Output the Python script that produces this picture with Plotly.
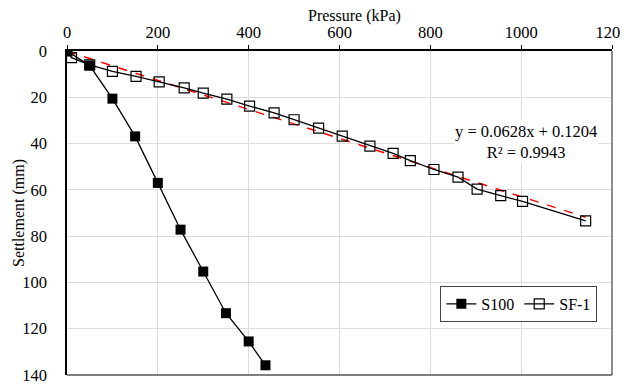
import plotly.graph_objects as go

# S100 data
s100_pressure = [0, 50, 100, 150, 200, 250, 300, 350, 400, 437]
s100_settlement = [0, 6.3, 20.6, 36.9, 57.0, 77.2, 95.3, 113.3, 125.5, 135.8]

# SF-1 data
sf1_pressure = [0, 10, 50, 100, 152, 203, 258, 300, 352, 402, 456, 500, 554, 606, 667, 718, 756, 808, 861, 903, 955, 1003, 1142]
sf1_settlement = [0, 2.9, 6.0, 8.8, 11.0, 13.3, 15.9, 18.2, 20.8, 23.8, 26.7, 29.7, 33.3, 36.8, 41.1, 44.2, 47.4, 51.2, 54.5, 59.7, 62.5, 65.0, 73.4]

# Linear trendline for SF-1
trend_slope = 0.0628
trend_intercept = 0.1204
trend_x = [0, 1142]
trend_label = "y = 0.0628x + 0.1204<br>R² = 0.9943"

x_ticks = [0, 200, 400, 600, 800, 1000, 1200]
y_ticks = [0, 20, 40, 60, 80, 100, 120, 140]

FONT = "'Liberation Serif', 'Times New Roman', serif"
FS = 16.5

fig = go.Figure()

fig.add_trace(go.Scatter(
    x=trend_x, y=[trend_slope * v + trend_intercept for v in trend_x],
    mode="lines", line=dict(color="red", width=1.5, dash="dash"),
    showlegend=False, hoverinfo="skip"))

fig.add_trace(go.Scatter(
    x=sf1_pressure, y=sf1_settlement, name="SF-1",
    mode="lines+markers",
    line=dict(color="black", width=1.3),
    marker=dict(symbol="square-open", size=10, color="black", line=dict(width=1.2))))

fig.add_trace(go.Scatter(
    x=s100_pressure, y=s100_settlement, name="S100",
    mode="lines+markers",
    line=dict(color="black", width=1.3),
    marker=dict(symbol="square", size=10, color="black")))

# page body adds an 8px offset, so the figure is sized to fit the remaining window
fig.update_layout(
    width=620, height=377,
    margin=dict(l=59, r=16, t=43, b=10),
    paper_bgcolor="white", plot_bgcolor="white",
    font=dict(family=FONT, size=FS, color="black"),
    showlegend=True,
    legend=dict(orientation="h", x=0.685, y=0.275, xanchor="left", yanchor="top",
                bordercolor="#444", borderwidth=1, bgcolor="white",
                font=dict(family=FONT, size=16, color="black"), traceorder="reversed",
                itemwidth=30, tracegroupgap=0),
    xaxis=dict(side="top", range=[0, 1200], tickvals=x_ticks, automargin=False,
               showgrid=True, gridcolor="#dcdcdc", gridwidth=1,
               showline=True, linecolor="black", linewidth=1.5,
               ticks="outside", ticklen=4, tickcolor="black",
               zeroline=False, tickfont=dict(family=FONT, size=FS, color="black"),
               ticklabelstandoff=1, ticklabeloverflow="allow"),
    yaxis=dict(range=[140, 0], tickvals=y_ticks, automargin=False,
               showgrid=True, gridcolor="#dcdcdc", gridwidth=1,
               showline=True, linecolor="black", linewidth=1.5,
               ticks="", zeroline=False, tickfont=dict(family=FONT, size=FS, color="black"),
               ticklabelstandoff=15, ticklabeloverflow="allow"),
    annotations=[
        dict(text="Pressure (kPa)", xref="paper", yref="paper", x=0.527, y=1.0,
             yshift=35, xanchor="center", yanchor="middle", showarrow=False,
             font=dict(family=FONT, size=16)),
        dict(text="Settlement (mm)", xref="paper", yref="paper", x=0, y=0.5,
             xshift=-48, xanchor="center", yanchor="middle", textangle=-90,
             showarrow=False, font=dict(family=FONT, size=16)),
        dict(text=trend_label, xref="x", yref="y", x=1010, y=39.5,
             xanchor="center", yanchor="middle", showarrow=False,
             bgcolor="white", font=dict(family=FONT, size=FS)),
    ],
    shapes=[
        dict(type="line", xref="paper", yref="paper", x0=1, x1=1, y0=0, y1=1,
             line=dict(color="#666", width=1.5)),
        dict(type="line", xref="paper", yref="paper", x0=0, x1=1, y0=0, y1=0,
             line=dict(color="#555", width=1.5)),
    ],
)

fig.write_html("out.html")
